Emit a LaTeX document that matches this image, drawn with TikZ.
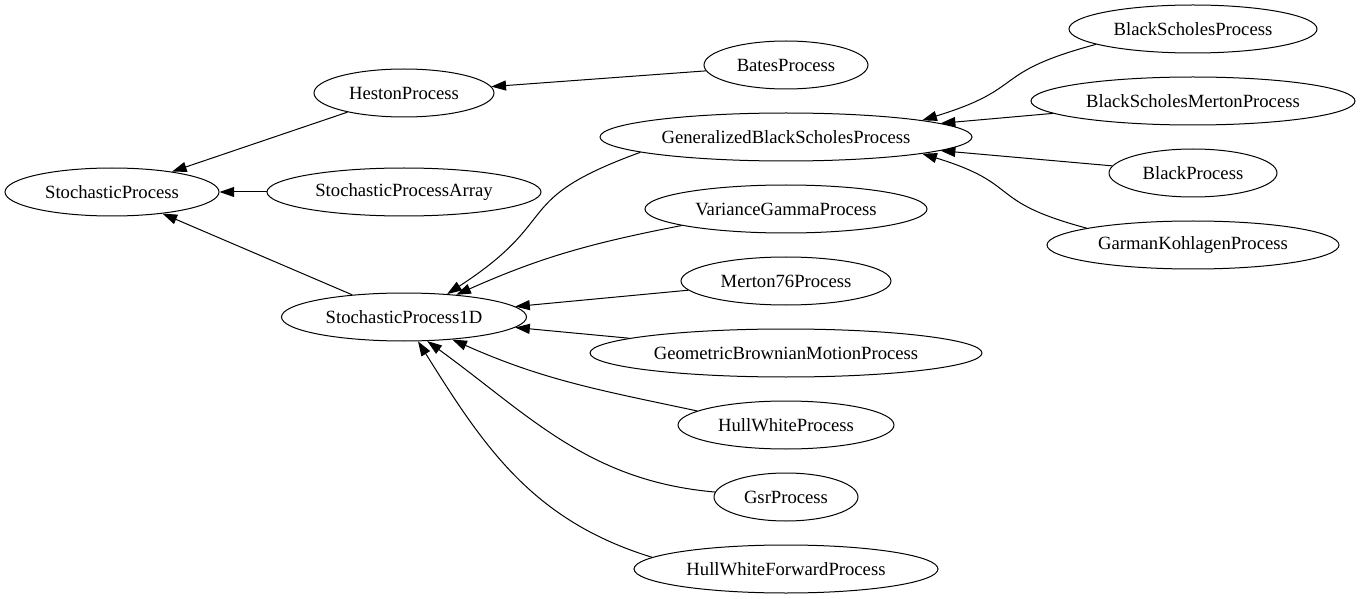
\documentclass[tikz,border=0pt]{standalone}
\usepackage{fontspec}
\setmainfont{Liberation Serif}
\usetikzlibrary{shapes.geometric,arrows.meta}
\begin{document}
\begin{tikzpicture}[x=0.75pt, y=0.75pt,
        proc/.style={ellipse, draw, line width=0.75pt, minimum height=36pt, inner sep=0pt,
            font=\fontsize{14pt}{16pt}\selectfont},
        inh/.style={-{Triangle[length=11pt, width=7.5pt]}, line width=0.75pt}]
        \useasboundingbox (0,0) rectangle (1361,-599);

        % Base processes
        \node[proc, minimum width=160.5pt] (sp) at (112,-192) {StochasticProcess};
        \node[proc, minimum width=135pt] (heston) at (404,-93) {HestonProcess};
        \node[proc, minimum width=205.5pt] (spa) at (404,-192) {StochasticProcessArray};
        \node[proc, minimum width=183.75pt] (sp1d) at (404,-317) {StochasticProcess1D};
        \node[proc, minimum width=123pt] (bates) at (786,-65) {BatesProcess};

        % One-dimensional processes
        \node[proc, minimum width=279pt] (gbsp) at (786,-137) {GeneralizedBlackScholesProcess};
        \node[proc, minimum width=211.5pt] (vg) at (786,-209) {VarianceGammaProcess};
        \node[proc, minimum width=157.5pt] (merton) at (786,-281) {Merton76Process};
        \node[proc, minimum width=294pt] (gbm) at (786,-353) {GeometricBrownianMotionProcess};
        \node[proc, minimum width=162pt] (hw) at (786,-425) {HullWhiteProcess};
        \node[proc, minimum width=108pt] (gsr) at (786,-497) {GsrProcess};
        \node[proc, minimum width=228pt] (hwf) at (786,-569) {HullWhiteForwardProcess};

        % Black-Scholes family
        \node[proc, minimum width=186pt] (bs) at (1193,-29) {BlackScholesProcess};
        \node[proc, minimum width=243pt] (bsm) at (1193,-101) {BlackScholesMertonProcess};
        \node[proc, minimum width=126pt] (black) at (1193,-173) {BlackProcess};
        \node[proc, minimum width=219pt] (gk) at (1193,-245) {GarmanKohlagenProcess};

        % Inheritance arrows
        \draw[inh] (heston) -- (sp);
        \draw[inh] (spa) -- (sp);
        \draw[inh] (sp1d) -- (sp);
        \draw[inh] (bates) -- (heston);
        \draw[inh] (gbsp.186) to[out=200, in=33, looseness=1.5] (sp1d.28);
        \draw[inh] (vg.189) to[out=191, in=24] (sp1d.23);
        \draw[inh] (merton) -- (sp1d);
        \draw[inh] (gbm) -- (sp1d);
        \draw[inh] (hw.171) to[out=168, in=-24] (sp1d.-25);
        \draw[inh] (gsr.176) to[out=175, in=-36] (sp1d.-46);
        \draw[inh] (hwf.175) to[out=163, in=-58] (sp1d.-60);
        \draw[inh] (bs.189) to[out=195, in=17, looseness=1.5] (gbsp.7);
        \draw[inh] (bsm) -- (gbsp);
        \draw[inh] (black) -- (gbsp);
        \draw[inh] (gk.171) to[out=165, in=-17, looseness=1.5] (gbsp.-7);
\end{tikzpicture}
\end{document}
